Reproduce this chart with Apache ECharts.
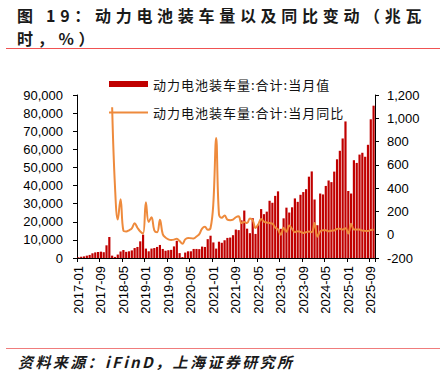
<!DOCTYPE html>
<html>
<head>
<meta charset="utf-8">
<script src="https://cdn.jsdelivr.net/npm/echarts@6/dist/echarts.min.js"></script>
<style>
html,body{margin:0;padding:0;background:#fff;}
#c{width:446px;height:375px;}
</style>
</head>
<body>
<div id="c"></div>
<script>
// ---- data (MWh, %) ----
const startYear = 2017;
const endYear = 2025;
const endMonth = 10;

const vol2017 = [400, 700, 900, 1300, 1700, 2600, 3100, 3300, 3500, 3200, 7000, 11600];
const vol2018 = [1300, 600, 1900, 3600, 4400, 3400, 3700, 4200, 5500, 6100, 9200, 12900];
const vol2019 = [5200, 3700, 5200, 5500, 6100, 7200, 5000, 4000, 4300, 4500, 6400, 9500];
const vol2020 = [2700, 500, 3000, 3700, 3700, 5000, 5000, 4900, 6300, 6100, 10400, 12300];
const vol2021 = [8600, 5200, 9000, 8400, 9800, 11100, 11300, 12600, 15700, 15400, 20800, 26200];
const vol2022 = [16200, 13700, 22000, 13300, 18600, 27000, 24200, 25600, 31600, 30500, 34300, 36800];
const vol2023 = [16100, 21900, 27800, 25100, 28000, 32900, 31000, 34900, 36400, 38000, 44900, 47800];
const vol2024 = [32300, 18100, 35600, 35100, 39800, 42800, 41900, 47700, 54500, 59200, 66000, 75400];
const vol2025 = [37000, 35600, 54000, 52500, 57100, 58100, 55900, 62500, 76600, 84100];

const yoy2017 = [null, null, null, null, null, null, null, null, null, null, null, null];
const yoy2018 = [1094, 420, 130, 305, 35, 28, 38, 55, 98, 60, 28, 10];
const yoy2019 = [278, 110, 150, 38, 22, 128, 5, -25, -40, -45, -42, -35];
const yoy2020 = [-55, -78, -40, -28, -30, -33, -15, 5, 52, 68, 42, 58];
const yoy2021 = [270, 830, 175, 145, 165, 130, 125, 130, 150, 158, 100, 110];
const yoy2022 = [100, 140, 125, 58, 90, 135, 112, 105, 100, 95, 62, 45];
const yoy2023 = [-1, 60, 26, 80, 50, 22, 30, 25, 15, 22, 28, 22];
const yoy2024 = [100, -17, 28, 38, 38, 30, 35, 37, 50, 52, 45, 55];
const yoy2025 = [10, 94, 45, 45, 44, 36, 33, 31, 41, 42];

const leftTicks = [0, 90000, 10000];   // min, max, interval
const rightTicks = [-200, 1200, 200];

const nameVol = '动力电池装车量:合计:当月值';
const nameYoy = '动力电池装车量:合计:当月同比';
const titleLine1 = '图 19：动力电池装车量以及同比变动（兆瓦';
const titleLine2 = '时，%）';
const footer = '资料来源：iFinD，上海证券研究所';

// ---- build ----
const months = [];
for (let y = startYear; y <= endYear; y++) {
  for (let m = 1; m <= 12; m++) {
    if (y === endYear && m > endMonth) break;
    months.push(y + '-' + (m < 10 ? '0' + m : '' + m));
  }
}
const volume = [].concat(vol2017, vol2018, vol2019, vol2020, vol2021, vol2022, vol2023, vol2024, vol2025);
const yoy = [].concat(yoy2017, yoy2018, yoy2019, yoy2020, yoy2021, yoy2022, yoy2023, yoy2024, yoy2025);

const fmt = v => v.toLocaleString('en-US');
const axisFont = 'Liberation Sans';
const cjk = '"Noto Sans CJK SC"';
const lineColor = '#EE8A3C';

const chart = echarts.init(document.getElementById('c'), null, {renderer: 'svg'});
const option = {
  animation: false,
  backgroundColor: '#fff',
  grid: {left: 77, right: 71, top: 95, bottom: 117, containLabel: false},
  legend: [
    {data: [nameVol], left: 109, top: 77.5, padding: 0, itemWidth: 39, itemHeight: 6, icon: 'rect',
     textStyle: {fontSize: 13, color: '#111', fontFamily: 'Noto Sans CJK SC'}},
    {data: [nameYoy], left: 109, top: 106, padding: 0, itemWidth: 39, itemHeight: 2, icon: 'rect',
     itemStyle: {color: lineColor},
     textStyle: {fontSize: 13, color: '#111', fontFamily: 'Noto Sans CJK SC'}}
  ],
  xAxis: {
    type: 'category', data: months, boundaryGap: true,
    axisLine: {lineStyle: {color: '#000', width: 1}},
    axisTick: {show: true, interval: 7, length: 4, alignWithLabel: false, lineStyle: {color: '#000'}},
    axisLabel: {interval: 7, rotate: 90, fontSize: 13, color: '#000', fontFamily: axisFont, margin: 8}
  },
  yAxis: [
    {type: 'value', position: 'left', min: leftTicks[0], max: leftTicks[1], interval: leftTicks[2],
     axisLine: {show: true, lineStyle: {color: '#000'}},
     axisTick: {show: true, length: 4, lineStyle: {color: '#000'}},
     splitLine: {show: false},
     axisLabel: {formatter: fmt, fontSize: 13, color: '#000', fontFamily: axisFont, margin: 14}},
    {type: 'value', position: 'right', min: rightTicks[0], max: rightTicks[1], interval: rightTicks[2],
     axisLine: {show: true, lineStyle: {color: '#000'}},
     axisTick: {show: true, length: 4, lineStyle: {color: '#000'}},
     splitLine: {show: false},
     axisLabel: {formatter: fmt, fontSize: 13, color: '#000', fontFamily: axisFont, margin: 12}}
  ],
  series: [
    {type: 'bar', name: nameVol, data: volume, yAxisIndex: 0, barCategoryGap: '22%',
     itemStyle: {color: '#C00000'}},
    {type: 'line', name: nameYoy, data: yoy, yAxisIndex: 1, smooth: 0.4, symbol: 'none',
     connectNulls: false, z: 3,
     lineStyle: {color: lineColor, width: 2}, itemStyle: {color: lineColor}}
  ],
  graphic: [
    {type: 'text', x: 17, y: 15, style: {text: titleLine1, font: 'bold 16px ' + cjk, fill: '#1a1a1a', textVerticalAlign: 'middle'}},
    {type: 'text', x: 17, y: 38, style: {text: titleLine2, font: 'bold 16px ' + cjk, fill: '#1a1a1a', textVerticalAlign: 'middle'}},
    {type: 'line', shape: {x1: 6, y1: 48.5, x2: 440, y2: 48.5}, style: {stroke: '#F05252', lineWidth: 1}},
    {type: 'line', shape: {x1: 6, y1: 348.5, x2: 440, y2: 348.5}, style: {stroke: '#F07C7C', lineWidth: 1}},
    {type: 'text', x: 18, y: 361, style: {text: footer, font: 'italic bold 15px ' + cjk, fill: '#1a1a1a', textVerticalAlign: 'middle'}}
  ]
};
chart.setOption(option);

function applySpacing() {
  const map = [[titleLine1, '4.7px'], [titleLine2, '4.7px'], [footer, '2.4px'], [nameVol, '1px'], [nameYoy, '1px']];
  document.querySelectorAll('#c svg text').forEach(t => {
    for (const [s, v] of map) {
      if (t.textContent === s) t.setAttribute('letter-spacing', v);
    }
  });
}
applySpacing();
chart.on('finished', applySpacing);
setTimeout(applySpacing, 50);
</script>
</body>
</html>
